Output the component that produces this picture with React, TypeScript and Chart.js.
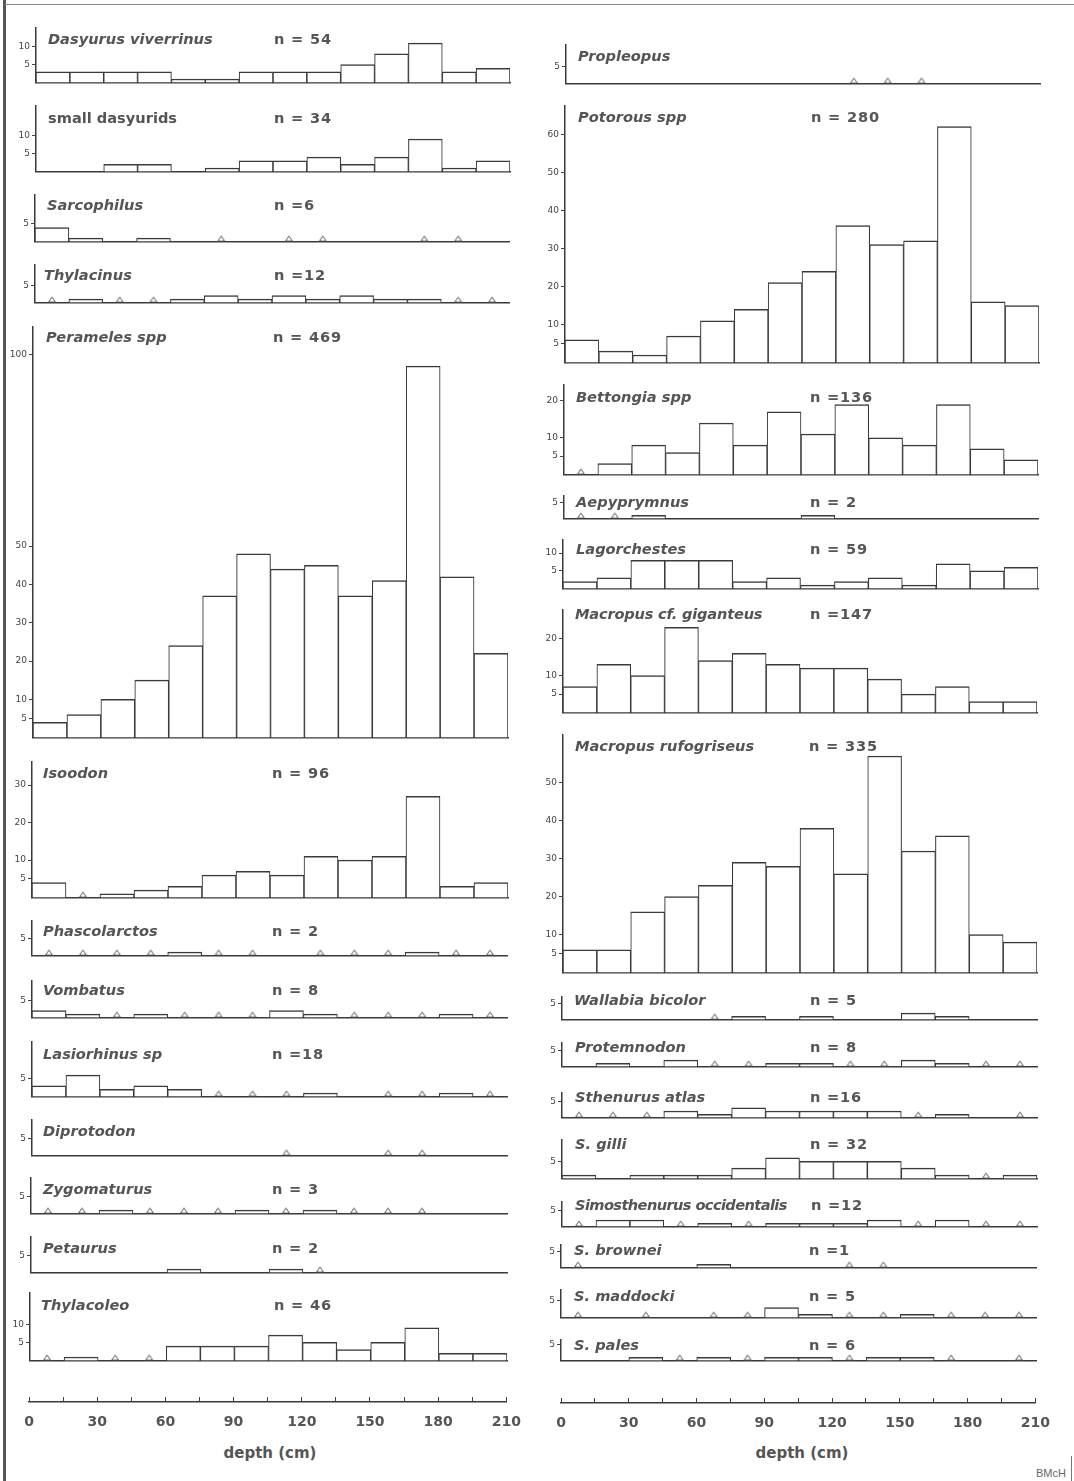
import React, { useEffect, useRef } from "react";
import { Chart, registerables } from "chart.js";

Chart.register(...registerables);
Chart.defaults.font.family = "'DejaVu Sans'";

// ---------- categories / axis labels ----------
const depthBins = ["0-15", "15-30", "30-45", "45-60", "60-75", "75-90", "90-105", "105-120", "120-135", "135-150", "150-165", "165-180", "180-195", "195-210"];
const depthTickValues = [0, 30, 60, 90, 120, 150, 180, 210];
const depthTickLabels = ["0", "30", "60", "90", "120", "150", "180", "210"];
const depthTitle = "depth (cm)";

// ---------- counts per 15 cm bin (left column) ----------
const dasyurusViverrinus = [3, 3, 3, 3, 1, 1, 3, 3, 3, 5, 8, 11, 3, 4];
const smallDasyurids = [0, 0, 2, 2, 0, 1, 3, 3, 4, 2, 4, 9, 1, 3];
const sarcophilus = [4, 1, 0, 1, 0, 0, 0, 0, 0, 0, 0, 0, 0, 0];
const thylacinus = [0, 1, 0, 0, 1, 2, 1, 2, 1, 2, 1, 1, 0, 0];
const perameles = [4, 6, 10, 15, 24, 37, 48, 44, 45, 37, 41, 97, 42, 22];
const isoodon = [4, 0, 1, 2, 3, 6, 7, 6, 11, 10, 11, 27, 3, 4];
const phascolarctos = [0, 0, 0, 0, 1, 0, 0, 0, 0, 0, 0, 1, 0, 0];
const vombatus = [2, 1, 0, 1, 0, 0, 0, 2, 1, 0, 0, 0, 1, 0];
const lasiorhinus = [3, 6, 2, 3, 2, 0, 0, 0, 1, 0, 0, 0, 1, 0];
const diprotodon = [0, 0, 0, 0, 0, 0, 0, 0, 0, 0, 0, 0, 0, 0];
const zygomaturus = [0, 0, 1, 0, 0, 0, 1, 0, 1, 0, 0, 0, 0, 0];
const petaurus = [0, 0, 0, 0, 1, 0, 0, 1, 0, 0, 0, 0, 0, 0];
const thylacoleo = [0, 1, 0, 0, 4, 4, 4, 7, 5, 3, 5, 9, 2, 2];

// ---------- counts per 15 cm bin (right column) ----------
const propleopus = [0, 0, 0, 0, 0, 0, 0, 0, 0, 0, 0, 0, 0, 0];
const potorous = [6, 3, 2, 7, 11, 14, 21, 24, 36, 31, 32, 62, 16, 15];
const bettongia = [0, 3, 8, 6, 14, 8, 17, 11, 19, 10, 8, 19, 7, 4];
const aepyprymnus = [0, 0, 1, 0, 0, 0, 0, 1, 0, 0, 0, 0, 0, 0];
const lagorchestes = [2, 3, 8, 8, 8, 2, 3, 1, 2, 3, 1, 7, 5, 6];
const macropusGiganteus = [7, 13, 10, 23, 14, 16, 13, 12, 12, 9, 5, 7, 3, 3];
const macropusRufogriseus = [6, 6, 16, 20, 23, 29, 28, 38, 26, 57, 32, 36, 10, 8];
const wallabia = [0, 0, 0, 0, 0, 1, 0, 1, 0, 0, 2, 1, 0, 0];
const protemnodon = [0, 1, 0, 2, 0, 0, 1, 1, 0, 0, 2, 1, 0, 0];
const sthenurusAtlas = [0, 0, 0, 2, 1, 3, 2, 2, 2, 2, 0, 1, 0, 0];
const sGilli = [1, 0, 1, 1, 1, 3, 6, 5, 5, 5, 3, 1, 0, 1];
const simosthenurusOcc = [0, 2, 2, 0, 1, 0, 1, 1, 1, 2, 0, 2, 0, 0];
const sBrownei = [0, 0, 0, 0, 1, 0, 0, 0, 0, 0, 0, 0, 0, 0];
const sMaddocki = [0, 0, 0, 0, 0, 0, 3, 1, 0, 0, 1, 0, 0, 0];
const sPales = [0, 0, 1, 0, 1, 0, 1, 1, 0, 1, 1, 0, 0, 0];

// ---------- bins marked with a triangle (bin indices) ----------
const noMarks: number[] = [];
const sarcophilusMarks = [5, 7, 8, 11, 12];
const thylacinusMarks = [0, 2, 3, 12, 13];
const isoodonMarks = [1];
const phascolarctosMarks = [0, 1, 2, 3, 5, 6, 8, 9, 10, 12, 13];
const vombatusMarks = [2, 4, 5, 6, 9, 10, 11, 13];
const lasiorhinusMarks = [5, 6, 7, 10, 11, 13];
const diprotodonMarks = [7, 10, 11];
const zygomaturusMarks = [0, 1, 3, 4, 5, 7, 9, 10, 11];
const petaurusMarks = [8];
const thylacoleoMarks = [0, 2, 3];
const propleopusMarks = [8, 9, 10];
const bettongiaMarks = [0];
const aepyprymnusMarks = [0, 1];
const wallabiaMarks = [4];
const protemnodonMarks = [4, 5, 8, 9, 12, 13];
const sthenurusAtlasMarks = [0, 1, 2, 10, 13];
const sGilliMarks = [12];
const simosthenurusOccMarks = [0, 3, 5, 10, 12, 13];
const sBrowneiMarks = [0, 8, 9];
const sMaddockiMarks = [0, 2, 4, 5, 8, 9, 11, 12, 13];
const sPalesMarks = [3, 5, 8, 11, 13];

// ---------- y tick values ----------
const ticks5 = [5];
const ticks5to10 = [5, 10];
const ticksPerameles = [5, 10, 20, 30, 40, 50, 100];
const ticksIsoodon = [5, 10, 20, 30];
const ticksPotorous = [5, 10, 20, 30, 40, 50, 60];
const ticksTwenty = [5, 10, 20];
const ticksRufogriseus = [5, 10, 20, 30, 40, 50];

// ---------- layout ----------
const PX_PER_UNIT = 3.87;
const Y_W = 30;
const PAD_T = 8;
const PAD_B = 3;
const PAD_R = 3;
const INK = "#3a3a3a";
const TEXT = "#555";

type PanelCfg = {
  name: string; italic: boolean; n?: string;
  values: number[]; marks: number[]; ticks: number[];
  left: number; right: number; top: number; base: number;
  tx: number; ty: number; nx: number; squeeze?: number;
};

const LNX = 273;
const RNX = 810;

const panels: PanelCfg[] = [
  { name: "Dasyurus viverrinus", italic: true, n: "n = 54", values: dasyurusViverrinus, marks: noMarks, ticks: ticks5to10, left: 36, right: 512, top: 28, base: 87, tx: 48, ty: 39, nx: LNX + 1 },
  { name: "small dasyurids", italic: false, n: "n = 34", values: smallDasyurids, marks: noMarks, ticks: ticks5to10, left: 36, right: 512, top: 106, base: 176, tx: 48, ty: 118, nx: LNX + 1 },
  { name: "Sarcophilus", italic: true, n: "n =6", values: sarcophilus, marks: sarcophilusMarks, ticks: ticks5, left: 35, right: 511, top: 195, base: 246, tx: 47, ty: 205, nx: LNX + 1 },
  { name: "Thylacinus", italic: true, n: "n =12", values: thylacinus, marks: thylacinusMarks, ticks: ticks5, left: 35, right: 511, top: 265, base: 307, tx: 44, ty: 275, nx: LNX + 1 },
  { name: "Perameles spp", italic: true, n: "n = 469", values: perameles, marks: noMarks, ticks: ticksPerameles, left: 33, right: 510, top: 327, base: 742, tx: 46, ty: 337, nx: LNX },
  { name: "Isoodon", italic: true, n: "n = 96", values: isoodon, marks: isoodonMarks, ticks: ticksIsoodon, left: 32, right: 510, top: 762, base: 902, tx: 43, ty: 773, nx: LNX - 1 },
  { name: "Phascolarctos", italic: true, n: "n = 2", values: phascolarctos, marks: phascolarctosMarks, ticks: ticks5, left: 32, right: 509, top: 921, base: 960, tx: 43, ty: 931, nx: LNX - 1 },
  { name: "Vombatus", italic: true, n: "n = 8", values: vombatus, marks: vombatusMarks, ticks: ticks5, left: 32, right: 509, top: 981, base: 1022, tx: 43, ty: 990, nx: LNX - 1 },
  { name: "Lasiorhinus sp", italic: true, n: "n =18", values: lasiorhinus, marks: lasiorhinusMarks, ticks: ticks5, left: 32, right: 509, top: 1042, base: 1101, tx: 43, ty: 1054, nx: LNX - 1 },
  { name: "Diprotodon", italic: true, values: diprotodon, marks: diprotodonMarks, ticks: ticks5, left: 32, right: 509, top: 1120, base: 1160, tx: 43, ty: 1131, nx: LNX - 1 },
  { name: "Zygomaturus", italic: true, n: "n = 3", values: zygomaturus, marks: zygomaturusMarks, ticks: ticks5, left: 31, right: 509, top: 1178, base: 1218, tx: 43, ty: 1189, nx: LNX - 1 },
  { name: "Petaurus", italic: true, n: "n = 2", values: petaurus, marks: petaurusMarks, ticks: ticks5, left: 31, right: 509, top: 1237, base: 1277, tx: 43, ty: 1248, nx: LNX - 1 },
  { name: "Thylacoleo", italic: true, n: "n = 46", values: thylacoleo, marks: thylacoleoMarks, ticks: ticks5to10, left: 30, right: 509, top: 1293, base: 1365, tx: 41, ty: 1305, nx: LNX + 1 },

  { name: "Propleopus", italic: true, values: propleopus, marks: propleopusMarks, ticks: ticks5, left: 566, right: 1042, top: 45, base: 88, tx: 578, ty: 56, nx: RNX },
  { name: "Potorous spp", italic: true, n: "n = 280", values: potorous, marks: noMarks, ticks: ticksPotorous, left: 565, right: 1041, top: 106, base: 367, tx: 578, ty: 117, nx: RNX + 1 },
  { name: "Bettongia spp", italic: true, n: "n =136", values: bettongia, marks: bettongiaMarks, ticks: ticksTwenty, left: 564, right: 1040, top: 385, base: 479, tx: 576, ty: 397, nx: RNX },
  { name: "Aepyprymnus", italic: true, n: "n = 2", values: aepyprymnus, marks: aepyprymnusMarks, ticks: ticks5, left: 564, right: 1040, top: 496, base: 523, tx: 576, ty: 502, nx: RNX },
  { name: "Lagorchestes", italic: true, n: "n = 59", values: lagorchestes, marks: noMarks, ticks: ticks5to10, left: 563, right: 1040, top: 540, base: 593, tx: 576, ty: 549, nx: RNX },
  { name: "Macropus cf. giganteus", italic: true, n: "n =147", values: macropusGiganteus, marks: noMarks, ticks: ticksTwenty, left: 563, right: 1039, top: 610, base: 717, tx: 575, ty: 614, nx: RNX, squeeze: -0.2 },
  { name: "Macropus rufogriseus", italic: true, n: "n = 335", values: macropusRufogriseus, marks: noMarks, ticks: ticksRufogriseus, left: 563, right: 1039, top: 735, base: 977, tx: 575, ty: 746, nx: RNX - 1 },
  { name: "Wallabia bicolor", italic: true, n: "n = 5", values: wallabia, marks: wallabiaMarks, ticks: ticks5, left: 562, right: 1039, top: 997, base: 1024, tx: 574, ty: 1000, nx: RNX },
  { name: "Protemnodon", italic: true, n: "n = 8", values: protemnodon, marks: protemnodonMarks, ticks: ticks5, left: 562, right: 1039, top: 1043, base: 1071, tx: 575, ty: 1047, nx: RNX },
  { name: "Sthenurus atlas", italic: true, n: "n =16", values: sthenurusAtlas, marks: sthenurusAtlasMarks, ticks: ticks5, left: 562, right: 1039, top: 1093, base: 1122, tx: 575, ty: 1097, nx: RNX },
  { name: "S. gilli", italic: true, n: "n = 32", values: sGilli, marks: sGilliMarks, ticks: ticks5, left: 562, right: 1039, top: 1140, base: 1183, tx: 575, ty: 1144, nx: RNX },
  { name: "Simosthenurus occidentalis", italic: true, n: "n =12", values: simosthenurusOcc, marks: simosthenurusOccMarks, ticks: ticks5, left: 562, right: 1039, top: 1202, base: 1231, tx: 575, ty: 1205, nx: RNX + 1, squeeze: -0.6 },
  { name: "S. brownei", italic: true, n: "n =1", values: sBrownei, marks: sBrowneiMarks, ticks: ticks5, left: 561, right: 1038, top: 1245, base: 1272, tx: 574, ty: 1250, nx: RNX - 1 },
  { name: "S. maddocki", italic: true, n: "n = 5", values: sMaddocki, marks: sMaddockiMarks, ticks: ticks5, left: 561, right: 1038, top: 1290, base: 1322, tx: 574, ty: 1296, nx: RNX - 1 },
  { name: "S. pales", italic: true, n: "n = 6", values: sPales, marks: sPalesMarks, ticks: ticks5, left: 561, right: 1038, top: 1340, base: 1365, tx: 574, ty: 1345, nx: RNX - 1 },
];

const depthAxes = [
  { x0: 29, x1: 509, y: 1402, cx: 270 },
  { x0: 561, x1: 1038, y: 1403, cx: 802 },
];

let triangleImg: HTMLCanvasElement | null = null;
function getTriangle(): HTMLCanvasElement {
  if (triangleImg) return triangleImg;
  const c = document.createElement("canvas");
  c.width = 10;
  c.height = 14;
  const ctx = c.getContext("2d")!;
  ctx.strokeStyle = "#555";
  ctx.fillStyle = "#fff";
  ctx.lineWidth = 1;
  ctx.beginPath();
  ctx.moveTo(5, 1.5);
  ctx.lineTo(8.5, 6.5);
  ctx.lineTo(1.5, 6.5);
  ctx.closePath();
  ctx.fill();
  ctx.stroke();
  triangleImg = c;
  return c;
}

function Panel({ p }: { p: PanelCfg }) {
  const ref = useRef<HTMLCanvasElement>(null);
  const w = Y_W + (p.right - p.left) + PAD_R;
  const h = PAD_T + (p.base - p.top) + PAD_B;
  useEffect(() => {
    const bars = p.values.map((v) => (v > 0 ? v : null));
    const marks = depthBins.map((_, i) => (p.marks.includes(i) ? 0 : null));
    const chart = new Chart(ref.current!, {
      type: "bar",
      data: {
        labels: depthBins,
        datasets: [
          {
            type: "bar",
            data: bars as any,
            backgroundColor: "#fff",
            borderColor: INK,
            borderWidth: { top: 1.5, left: 1.1, right: 1.1, bottom: 0 } as any,
            barPercentage: 1,
            categoryPercentage: 1,
            order: 2,
          },
          {
            type: "line",
            data: marks as any,
            showLine: false,
            pointStyle: getTriangle() as any,
            pointRadius: 4,
            order: 1,
          } as any,
        ],
      },
      options: {
        responsive: false,
        animation: false,
        events: [],
        layout: { padding: { top: PAD_T, bottom: PAD_B, left: 0, right: PAD_R } },
        plugins: { legend: { display: false }, tooltip: { enabled: false } },
        scales: {
          x: {
            type: "category",
            offset: true,
            grid: { display: false, drawTicks: false },
            ticks: { display: false },
            border: { display: true, color: INK, width: 1.5 },
            afterFit: (s: any) => { s.height = 0; },
          },
          y: {
            min: 0,
            max: (p.base - p.top) / PX_PER_UNIT,
            afterBuildTicks: (s: any) => { s.ticks = p.ticks.map((v) => ({ value: v })); },
            afterFit: (s: any) => { s.width = Y_W; },
            grid: { display: true, drawOnChartArea: false, drawTicks: true, tickLength: 4, color: "#444", lineWidth: 1 },
            border: { display: true, color: INK, width: 1.5 },
            ticks: { autoSkip: false, font: { size: 9 }, color: "#444", padding: 2 },
          },
        },
      } as any,
    });
    return () => chart.destroy();
  }, []);

  const base: React.CSSProperties = {
    position: "absolute",
    fontFamily: "'DejaVu Sans'",
    fontWeight: "bold",
    fontSize: 14.6,
    lineHeight: "18px",
    color: TEXT,
    whiteSpace: "nowrap",
  };
  return (
    <>
      <canvas
        ref={ref}
        width={w}
        height={h}
        style={{ position: "absolute", left: p.left - Y_W, top: p.top - PAD_T, width: w, height: h }}
      />
      <div style={{ ...base, left: p.tx, top: p.ty - 9, fontStyle: p.italic ? "italic" : "normal", letterSpacing: p.squeeze ?? 0 }}>{p.name}</div>
      {p.n ? <div style={{ ...base, left: p.nx, top: p.ty - 9, letterSpacing: 0.8 }}>{p.n}</div> : null}
    </>
  );
}

const AX_PAD_L = 20;
const AX_PAD_R = 24;
const AX_AREA_H = 5;
const AX_PAD_T = 1;
const AX_H = 32;

function DepthAxis({ a }: { a: { x0: number; x1: number; y: number; cx: number } }) {
  const ref = useRef<HTMLCanvasElement>(null);
  const w = AX_PAD_L + (a.x1 - a.x0) + AX_PAD_R;
  const h = AX_PAD_T + AX_AREA_H + AX_H;
  useEffect(() => {
    const chart = new Chart(ref.current!, {
      type: "scatter",
      data: { datasets: [{ data: [] }] },
      options: {
        responsive: false,
        animation: false,
        events: [],
        layout: { padding: { top: AX_PAD_T, bottom: 0, left: AX_PAD_L, right: AX_PAD_R } },
        plugins: { legend: { display: false }, tooltip: { enabled: false } },
        scales: {
          x: {
            type: "linear",
            min: 0,
            max: 210,
            afterFit: (s: any) => { s.height = AX_H; },
            grid: { display: true, drawOnChartArea: true, drawTicks: false, color: "#444", lineWidth: 1 },
            border: { display: true, color: INK, width: 1.5 },
            ticks: {
              stepSize: 15,
              autoSkip: false,
              maxRotation: 0,
              minRotation: 0,
              padding: 12,
              color: TEXT,
              font: { size: 14, weight: "bold" },
              callback: (v: any) => {
                const i = depthTickValues.indexOf(Number(v));
                return i >= 0 ? depthTickLabels[i] : "";
              },
            },
          },
          y: { display: false, min: 0, max: 1 },
        },
      } as any,
    });
    return () => chart.destroy();
  }, []);
  return (
    <>
      <canvas
        ref={ref}
        width={w}
        height={h}
        style={{ position: "absolute", left: a.x0 - AX_PAD_L, top: a.y - AX_AREA_H - AX_PAD_T, width: w, height: h }}
      />
      <div
        style={{
          position: "absolute",
          left: a.cx,
          top: 1444,
          transform: "translateX(-50%)",
          fontFamily: "'DejaVu Sans'",
          fontWeight: "bold",
          fontSize: 15,
          lineHeight: "18px",
          color: TEXT,
          whiteSpace: "nowrap",
        }}
      >
        {depthTitle}
      </div>
    </>
  );
}

export default function App() {
  return (
    <div style={{ position: "absolute", left: 0, top: 0, width: 1074, height: 1481, background: "#fff", overflow: "hidden" }}>
      <div style={{ position: "absolute", left: 3, top: 0, width: 3, height: 1481, background: "#555" }} />
      <div style={{ position: "absolute", left: 5, top: 4, width: 1069, height: 1, background: "#888" }} />
      {panels.map((p) => (
        <Panel key={p.name} p={p} />
      ))}
      {depthAxes.map((a, i) => (
        <DepthAxis key={i} a={a} />
      ))}
      <div style={{ position: "absolute", left: 1071, top: 1456, width: 1, height: 25, background: "#777" }} />
      <div style={{ position: "absolute", left: 1036, top: 1467, fontFamily: "'Liberation Sans'", fontSize: 11, color: "#666" }}>BMcH</div>
    </div>
  );
}
